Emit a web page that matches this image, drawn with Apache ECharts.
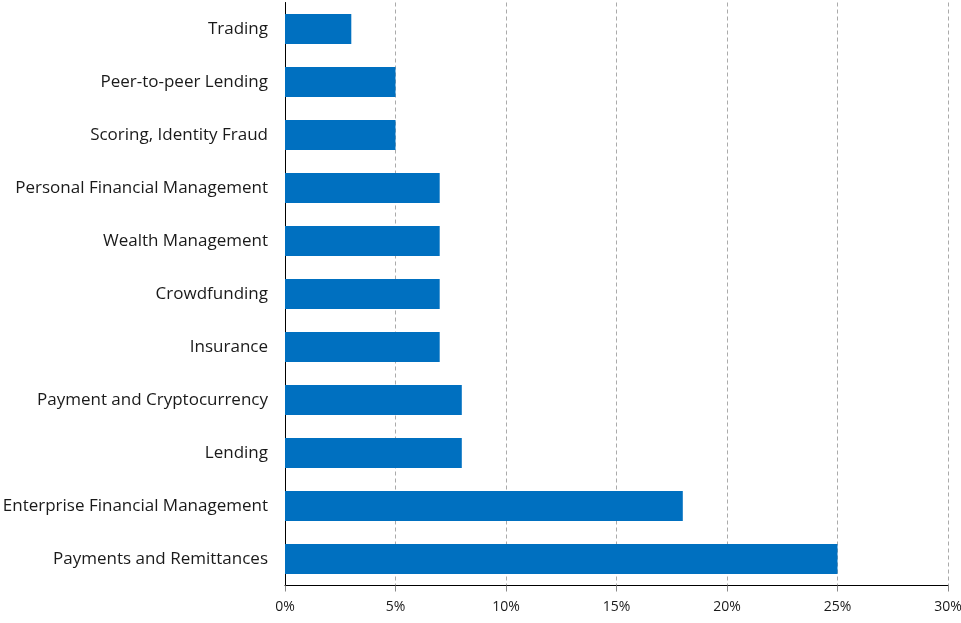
<!DOCTYPE html>
<html>
<head>
<meta charset="utf-8">
<script src="https://cdn.jsdelivr.net/npm/echarts@6/dist/echarts.min.js"></script>
<style>
  html, body { margin: 0; padding: 0; background: #fff; }
  #chart { width: 961px; height: 623px; }
</style>
</head>
<body>
<div id="chart"></div>
<script>
// Fintech segments, listed bottom-to-top on the category axis
const categories = [
  'Payments and Remittances',
  'Enterprise Financial Management',
  'Lending',
  'Payment and Cryptocurrency',
  'Insurance',
  'Crowdfunding',
  'Wealth Management',
  'Personal Financial Management',
  'Scoring, Identity Fraud',
  'Peer-to-peer Lending',
  'Trading'
];
// Share of companies, percent
const shares = [25, 18, 8, 8, 7, 7, 7, 7, 5, 5, 3];
// Value-axis ticks, percent
const ticks = [0, 5, 10, 15, 20, 25, 30];

const FONT = 'Open Sans';
const chart = echarts.init(document.getElementById('chart'), null, { renderer: 'canvas' });
chart.setOption({
  animation: false,
  grid: { left: 285, right: 13, top: 2.5, bottom: 37.5, containLabel: false, outerBoundsMode: 'none' },
  xAxis: {
    type: 'value',
    min: ticks[0],
    max: ticks[ticks.length - 1],
    interval: ticks[1] - ticks[0],
    axisLine: { show: true, lineStyle: { color: '#000', width: 1 } },
    axisTick: { show: true, length: 6, lineStyle: { color: '#888' } },
    axisLabel: { formatter: v => v + '%', color: '#1a1a1a', fontFamily: FONT, fontSize: 14, margin: 15 },
    splitLine: { show: true, lineStyle: { color: '#aaa', type: [4, 3], width: 1 } }
  },
  yAxis: {
    type: 'category',
    data: categories,
    axisLine: { show: true, lineStyle: { color: '#000', width: 1 } },
    axisTick: { show: false },
    axisLabel: { color: '#1a1a1a', fontFamily: FONT, fontSize: 17, margin: 17 },
    splitLine: { show: false }
  },
  series: [{
    type: 'bar',
    data: shares,
    barWidth: 30,
    itemStyle: { color: '#0070C0' }
  }]
});
</script>
</body>
</html>
